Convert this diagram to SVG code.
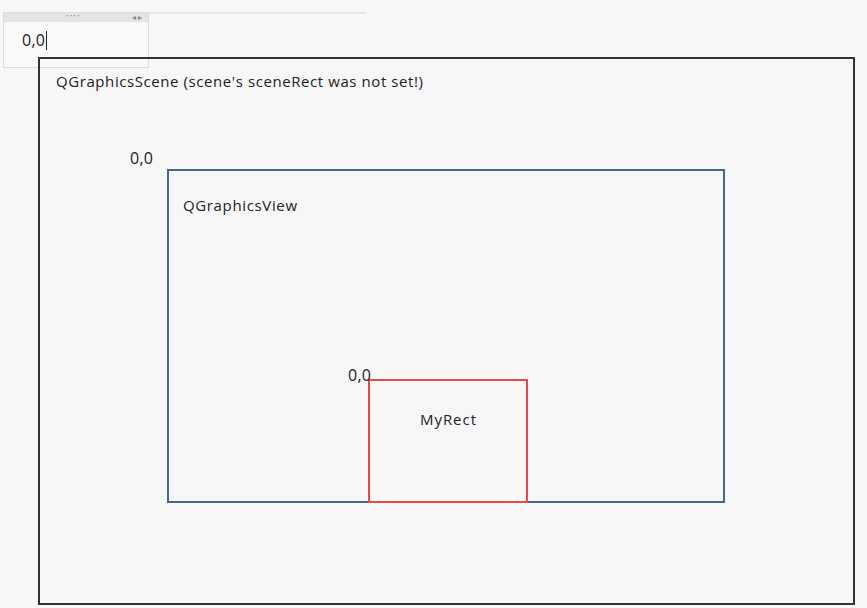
<svg xmlns="http://www.w3.org/2000/svg" width="867" height="608" viewBox="0 0 867 608">
<style>
text{font-family:"Open Sans","Liberation Sans",sans-serif;fill:#222}
.lbl{font-size:15px}
.coord{font-size:16px}
</style>
<rect x="0" y="0" width="867" height="608" fill="#f7f7f7"/>
<g id="panel">
<line x1="148" y1="13" x2="366" y2="13" stroke="#d8d8d8" stroke-width="1"/>
<rect x="3.5" y="12.5" width="145" height="55" fill="#f9f9f9" stroke="#dcdcdc" stroke-width="1"/>
<rect x="4" y="13" width="144" height="9" fill="#e4e4e4"/>
<text x="66" y="19" style="font-size:10px;fill:#888;letter-spacing:1px">····</text>
<text x="132" y="20" style="font-size:8px;fill:#888">◂ ▸</text>
<text x="22" y="46" class="coord" textLength="23">0,0</text>
<line x1="46.5" y1="31" x2="46.5" y2="50" stroke="#222" stroke-width="1"/>
</g>
<g id="scene">
<rect x="39" y="58" width="815" height="546" fill="none" stroke="#333" stroke-width="2"/>
<text x="56" y="87" class="lbl" textLength="367">QGraphicsScene (scene's sceneRect was not set!)</text>
</g>
<g id="view">
<text x="130" y="164" class="coord" textLength="23">0,0</text>
<rect x="168" y="170" width="556" height="332" fill="none" stroke="#4a6591" stroke-width="2"/>
<text x="183" y="211" class="lbl" textLength="114">QGraphicsView</text>
</g>
<g id="myrect">
<rect x="369" y="380" width="158" height="122" fill="none" stroke="#e84848" stroke-width="2"/>
<text x="348" y="381" class="coord" textLength="23">0,0</text>
<text x="420" y="425" class="lbl" textLength="56">MyRect</text>
</g>
<g id="connectors"/>
</svg>
